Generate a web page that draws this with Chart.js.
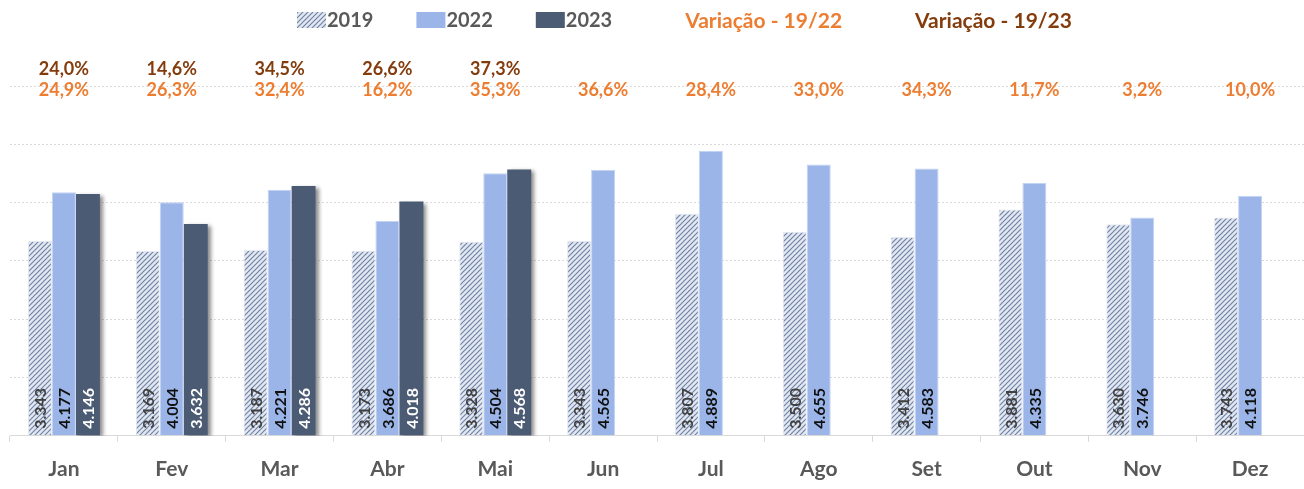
<!DOCTYPE html>
<html>
<head>
<meta charset="utf-8">
<script src="https://cdn.jsdelivr.net/npm/chart.js@4.4.0/dist/chart.umd.min.js"></script>
<style>
  body { margin: 0; background: #fff; }
  #wrap { width: 1304px; height: 489px; }
</style>
</head>
<body>
<div id="wrap"><canvas id="chart" width="1304" height="489"></canvas></div>
<script>
// Dados
var meses = ['Jan', 'Fev', 'Mar', 'Abr', 'Mai', 'Jun', 'Jul', 'Ago', 'Set', 'Out', 'Nov', 'Dez'];
var vendas2019 = [3343, 3169, 3187, 3173, 3328, 3343, 3807, 3500, 3412, 3881, 3630, 3743];
var vendas2022 = [4177, 4004, 4221, 3686, 4504, 4565, 4889, 4655, 4583, 4335, 3746, 4118];
var vendas2023 = [4146, 3632, 4286, 4018, 4568];
var var1922 = [24.9, 26.3, 32.4, 16.2, 35.3, 36.6, 28.4, 33.0, 34.3, 11.7, 3.2, 10.0];
var var1923 = [24.0, 14.6, 34.5, 26.6, 37.3];

var FONT = 'Lato, "Open Sans", sans-serif';
var LARANJA = '#ED7D31';
var MARROM = '#843C0C';

// Hachura para 2019
function hachura() {
    var c = document.createElement('canvas');
    c.width = 5; c.height = 5;
    var g = c.getContext('2d');
    g.fillStyle = '#E2E7F0';
    g.fillRect(0, 0, 5, 5);
    g.strokeStyle = '#6F83A8';
    g.lineWidth = 1.2;
    g.beginPath();
    g.moveTo(0, 5); g.lineTo(5, 0);
    g.moveTo(-2.5, 2.5); g.lineTo(2.5, -2.5);
    g.moveTo(2.5, 7.5); g.lineTo(7.5, 2.5);
    g.stroke();
    return g.createPattern(c, 'repeat');
}
var ctx = document.getElementById('chart').getContext('2d');
var padrao2019 = hachura();

function fmt(v) {
    return Math.floor(v / 1000) + '.' + String(v % 1000).padStart(3, '0');
}
function pct(v) {
    return v.toFixed(1).replace('.', ',') + '%';
}

var labelCores = ['#404040', '#111111', '#ffffff'];

// Sombra nas barras de 2023
var sombra = {
    id: 'sombra',
    beforeDatasetDraw: function (chart, args) {
        if (args.index !== 2) return;
        var c = chart.ctx;
        c.save();
        c.shadowColor = 'rgba(0,0,0,0.45)';
        c.shadowOffsetX = 3;
        c.shadowOffsetY = 2;
        c.shadowBlur = 4;
    },
    afterDatasetDraw: function (chart, args) {
        if (args.index !== 2) return;
        chart.ctx.restore();
    }
};

// Rótulos verticais dentro das barras
var rotulos = {
    id: 'rotulos',
    afterDatasetsDraw: function (chart) {
        var c = chart.ctx;
        var base = chart.chartArea.bottom;
        chart.data.datasets.forEach(function (ds, i) {
            var meta = chart.getDatasetMeta(i);
            meta.data.forEach(function (bar, j) {
                var v = ds.data[j];
                if (v == null) return;
                c.save();
                c.translate(bar.x, base - 7);
                c.rotate(-Math.PI / 2);
                c.font = 'bold 16px ' + FONT;
                c.fillStyle = labelCores[i];
                c.textAlign = 'left';
                c.textBaseline = 'middle';
                c.fillText(fmt(v), 0, 1);
                c.restore();
            });
        });
    }
};

// Variações no topo
var variacoes = {
    id: 'variacoes',
    afterDraw: function (chart) {
        var c = chart.ctx;
        var x = chart.scales.x;
        c.save();
        c.font = 'bold 18px ' + FONT;
        c.textAlign = 'center';
        c.textBaseline = 'middle';
        var1923.forEach(function (v, i) {
            c.fillStyle = MARROM;
            c.fillText(pct(v), x.getPixelForValue(i), 69);
        });
        var1922.forEach(function (v, i) {
            c.fillStyle = LARANJA;
            c.fillText(pct(v), x.getPixelForValue(i), 90);
        });
        c.restore();
    }
};

// Legenda
var legenda = {
    id: 'legenda',
    afterDraw: function (chart) {
        var c = chart.ctx;
        var itens = [
            {txt: '2019', box: padrao2019, cor: '#595959', tam: 20},
            {txt: '2022', box: '#9BB5E9', cor: '#595959', tam: 20},
            {txt: '2023', box: '#4B5B74', cor: '#595959', tam: 20},
            {txt: 'Variação - 19/22', box: null, cor: LARANJA, tam: 21},
            {txt: 'Variação - 19/23', box: null, cor: MARROM, tam: 21}
        ];
        var px = 297, py = 20;
        c.save();
        c.textBaseline = 'middle';
        itens.forEach(function (it) {
            if (it.box) {
                c.fillStyle = it.box;
                c.fillRect(px, py - 8, 29, 16);
            }
            c.font = 'bold ' + it.tam + 'px ' + FONT;
            c.fillStyle = it.cor;
            c.fillText(it.txt, px + 30, py + 1);
            px += 30 + c.measureText(it.txt).width + 43;
        });
        c.restore();
    }
};

new Chart(ctx, {
    type: 'bar',
    data: {
        labels: meses,
        datasets: [{
            label: '2019',
            data: vendas2019,
            backgroundColor: padrao2019,
            borderColor: '#E4E9F1',
            borderWidth: 1
        }, {
            label: '2022',
            data: vendas2022,
            backgroundColor: '#9BB5E9',
            borderColor: '#C3D3F3',
            borderWidth: 1
        }, {
            label: '2023',
            data: vendas2023,
            backgroundColor: '#4B5B74'
        }]
    },
    options: {
        responsive: false,
        animation: false,
        events: [],
        layout: {
            padding: {top: 86, left: 10, right: 0, bottom: -8}
        },
        datasets: {
            bar: {
                categoryPercentage: 0.667,
                barPercentage: 1
            }
        },
        scales: {
            x: {
                grid: {
                    drawOnChartArea: false,
                    drawTicks: true,
                    tickLength: 6,
                    color: '#D9D9D9'
                },
                border: {color: '#D9D9D9'},
                ticks: {
                    color: '#595959',
                    padding: 15,
                    font: {family: FONT, size: 21, weight: 'bold'}
                }
            },
            y: {
                min: 0,
                max: 6000,
                ticks: {display: false, stepSize: 1000},
                grid: {color: '#D9D9D9', drawTicks: false},
                border: {display: false, dash: [2, 2]}
            }
        },
        plugins: {
            legend: {display: false},
            tooltip: {enabled: false}
        }
    },
    plugins: [sombra, rotulos, variacoes, legenda]
});
</script>
</body>
</html>
